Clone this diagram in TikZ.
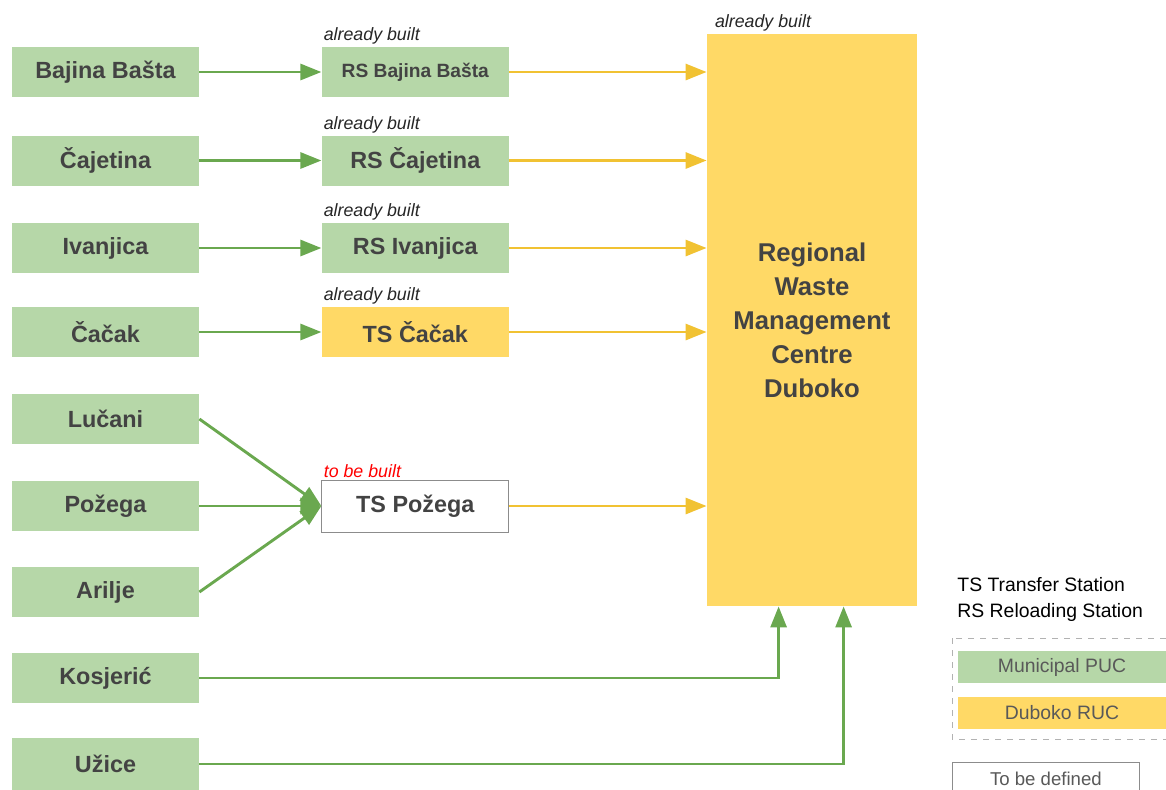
\documentclass[tikz,border=0pt]{standalone}
\usepackage{fontspec}
\setmainfont{Liberation Sans}
\usetikzlibrary{arrows.meta,positioning,calc}
\definecolor{pucgreen}{HTML}{B6D7A8}
\definecolor{rucyellow}{HTML}{FFD966}
\definecolor{linegreen}{HTML}{6AA84F}
\definecolor{lineyellow}{HTML}{F1C232}
\definecolor{boxtext}{HTML}{434343}

\tikzset{
  puc/.style={rectangle, fill=pucgreen, minimum width=93.5pt, minimum height=25pt, inner sep=0pt,
    text=boxtext, font=\fontsize{11.7}{14}\selectfont\bfseries},
  ruc/.style={puc, fill=rucyellow},
  open/.style={puc, fill=white, draw=black!45, line width=0.4pt},
  status/.style={anchor=south west, inner sep=1pt, text=black!85, font=\fontsize{8.9}{10}\selectfont\itshape},
  greenarrow/.style={draw=linegreen, line width=1.45pt, -{Triangle[length=10.5pt,width=8pt]}},
  yellowarrow/.style={draw=lineyellow, line width=1.45pt, -{Triangle[length=10.5pt,width=8pt]}},
  legendtext/.style={text=black!65, font=\fontsize{9.7}{12}\selectfont}
}

\begin{document}
\begin{tikzpicture}[x=0.5pt, y=-0.5pt]
    \useasboundingbox (0,0) rectangle (1166,789);

    % Municipalities
    \node[puc] (bajina) at (105.5,72) {Bajina Bašta};
    \node[puc] (cajetina) at (105.5,160.5) {Čajetina};
    \node[puc] (ivanjica) at (105.5,248) {Ivanjica};
    \node[puc] (cacak) at (105.5,332) {Čačak};
    \node[puc] (lucani) at (105.5,419) {Lučani};
    \node[puc] (pozega) at (105.5,506) {Požega};
    \node[puc] (arilje) at (105.5,592) {Arilje};
    \node[puc] (kosjeric) at (105.5,678) {Kosjerić};
    \node[puc, minimum height=26pt] (uzice) at (105.5,764) {Užice};

    % Stations
    \node[puc, right=61pt of bajina, font=\fontsize{9.6}{12}\selectfont\bfseries] (rsbajina) {RS Bajina Bašta};
    \node[puc, right=61pt of cajetina] (rscajetina) {RS Čajetina};
    \node[puc, right=61pt of ivanjica] (rsivanjica) {RS Ivanjica};
    \node[ruc, right=61pt of cacak] (tscacak) {TS Čačak};
    \node[open, minimum height=26pt, right=61pt of pozega] (tspozega) {TS Požega};

    % Regional centre
    \node[ruc, minimum width=105pt, minimum height=286pt, align=center,
      font=\fontsize{12.85}{17}\selectfont\bfseries] (rwmc) at (812,320)
      {Regional\\Waste\\Management\\Centre\\Duboko};

    % Status labels
    \node[status] at (rsbajina.north west) {already built};
    \node[status] at (rscajetina.north west) {already built};
    \node[status] at (rsivanjica.north west) {already built};
    \node[status] at (tscacak.north west) {already built};
    \node[status, text=red] at (tspozega.north west) {to be built};
    \node[status, xshift=3pt] at (rwmc.north west) {already built};

    % Flows
    \draw[greenarrow] (bajina) -- (rsbajina);
    \draw[greenarrow] (cajetina) -- (rscajetina);
    \draw[greenarrow] (ivanjica) -- (rsivanjica);
    \draw[greenarrow] (cacak) -- (tscacak);
    \draw[greenarrow] (lucani.east) -- (tspozega.west);
    \draw[greenarrow] (pozega) -- (tspozega);
    \draw[greenarrow] (arilje.east) -- (tspozega.west);
    \coordinate (inkos) at ($(rwmc.south west)+(72,0)$);
    \coordinate (inuz) at ($(rwmc.south west)+(137,0)$);
    \draw[greenarrow] (kosjeric) -| (inkos);
    \draw[greenarrow] (uzice) -| (inuz);

    \draw[yellowarrow] (rsbajina) -- (rsbajina -| rwmc.west);
    \draw[yellowarrow] (rscajetina) -- (rscajetina -| rwmc.west);
    \draw[yellowarrow] (rsivanjica) -- (rsivanjica -| rwmc.west);
    \draw[yellowarrow] (tscacak) -- (tscacak -| rwmc.west);
    \draw[yellowarrow] (tspozega) -- (tspozega -| rwmc.west);

    % Legend
    \node[anchor=west, align=left, inner sep=0pt, font=\fontsize{9.7}{13}\selectfont] (abbr) at (957,599)
      {TS Transfer Station\\RS Reloading Station};
    \draw[black!30, dashed, line width=0.5pt] (952,638) rectangle (1180,739);
    \node[puc, minimum width=104pt, minimum height=16pt, legendtext] (legpuc) at (1062,667) {Municipal PUC};
    \node[ruc, minimum width=104pt, minimum height=16pt, legendtext] (legruc) at (1062,713) {Duboko RUC};
    \node[open, minimum width=93.5pt, minimum height=16pt, anchor=north west, legendtext,
      font=\fontsize{9.3}{12}\selectfont, text depth=0pt] (legopen) at (952,762) {To be defined};
\end{tikzpicture}
\end{document}
